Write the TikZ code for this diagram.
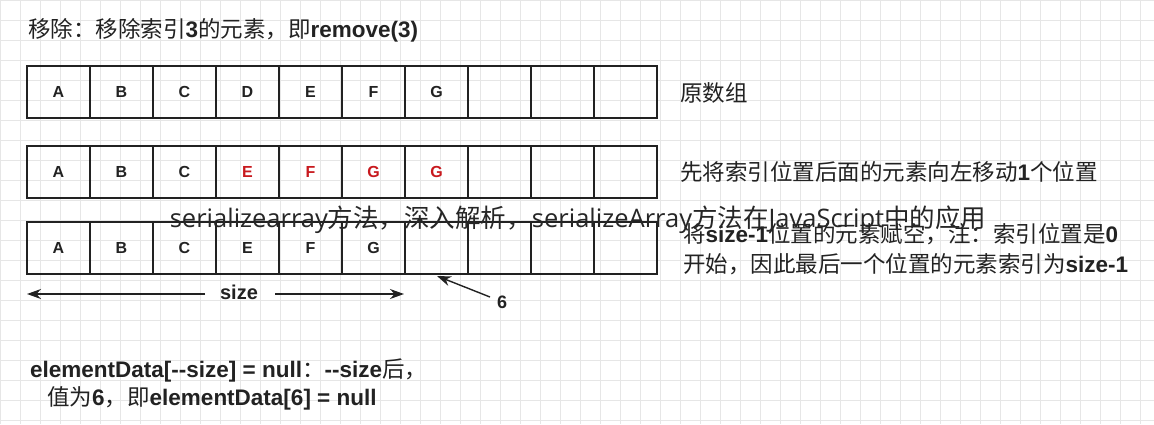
\documentclass[tikz,border=0pt]{standalone}
\usepackage{fontspec}
\setmainfont{Liberation Sans}
\newfontfamily\cjk{Noto Sans CJK SC}
\usetikzlibrary{arrows.meta}
\definecolor{gridc}{HTML}{E6E6E6}
\definecolor{redc}{HTML}{C8191E}
\definecolor{txt}{HTML}{222222}
\tikzset{
  cell/.style={draw=txt,line width=1.4pt,minimum width=63pt,minimum height=52pt,inner sep=0pt,font=\bfseries\fontsize{16}{16}\selectfont,text=txt},
  lbl/.style={anchor=west,inner sep=0pt,font=\cjk\fontsize{22.5}{24}\selectfont,text=txt},
  arr/.style={-{Stealth[length=14pt,width=10pt]},line width=1.4pt,draw=txt},
}
\newcommand{\B}[1]{{\fontspec{Liberation Sans}\bfseries #1}}
\begin{document}
\begin{tikzpicture}[x=1pt,y=-1pt]
\useasboundingbox (0,0) rectangle (1154,424);
\fill[white] (0,0) rectangle (1154,424);
\foreach \gx in {0,20,...,1160}{\draw[gridc,line width=0.5pt] (\gx,0) -- (\gx,424);}
\foreach \gy in {0,20,...,420}{\draw[gridc,line width=0.5pt] (0,\gy) -- (1154,\gy);}
% rows
\foreach \r/\y/\lst in {a/92/{A,B,C,D,E,F,G,,,},b/172/{A,B,C,,,,,,,},c/248/{A,B,C,E,F,G,,,,}}{
  \foreach \t [count=\i] in \lst {
    \node[cell] (\r\i) at ({27+63*(\i-0.5)},\y) {\t};
  }
}
\foreach \i/\t in {4/E,5/F,6/G,7/G}{\node[font=\bfseries\fontsize{16}{16}\selectfont,text=redc] (rb\i) at (b\i) {\t};}
% title
\node[lbl] (title) at (28,30) {移除：移除索引\B{3}的元素，即\B{remove(3)}};
\node[lbl] (l1) at (680,93) {原数组};
\node[lbl] (l2) at (680,172) {先将索引位置后面的元素向左移动\B{1}个位置};
\node[lbl] (l3) at (683,234) {将\B{size-1}位置的元素赋空，注：索引位置是\B{0}};
\node[lbl] (l4) at (683,264) {开始，因此最后一个位置的元素索引为\B{size-1}};
% size arrows
\node[font=\bfseries\fontsize{20}{20}\selectfont,text=txt] (size) at (239,292) {size};
\coordinate (sl) at (27,294);
\coordinate (sr) at (404,294);
\draw[arr] (205,294) -- (sl);
\draw[arr] (275,294) -- (sr);
\node[font=\bfseries\fontsize{18}{18}\selectfont,text=txt] (six) at (502,302) {6};
\coordinate (sixt) at (437,276);
\draw[arr] (490,297) -- (sixt);
% bottom
\node[lbl] (b1t) at (30,370) {\B{elementData[--size] = null}：\B{--size}后，};
\node[lbl] (b2t) at (47,398) {值为\B{6}，即\B{elementData[6] = null}};
% watermark
\node[font=\cjk\fontsize{25.5}{25.5}\selectfont,text=black!85,inner sep=0pt] (wm) at (578,220)
  {{\fontspec{Open Sans}serializearray}方法，深入解析，{\fontspec{Open Sans}serializeArray}方法在{\fontspec{Open Sans}JavaScript}中的应用};
\end{tikzpicture}
\end{document}
